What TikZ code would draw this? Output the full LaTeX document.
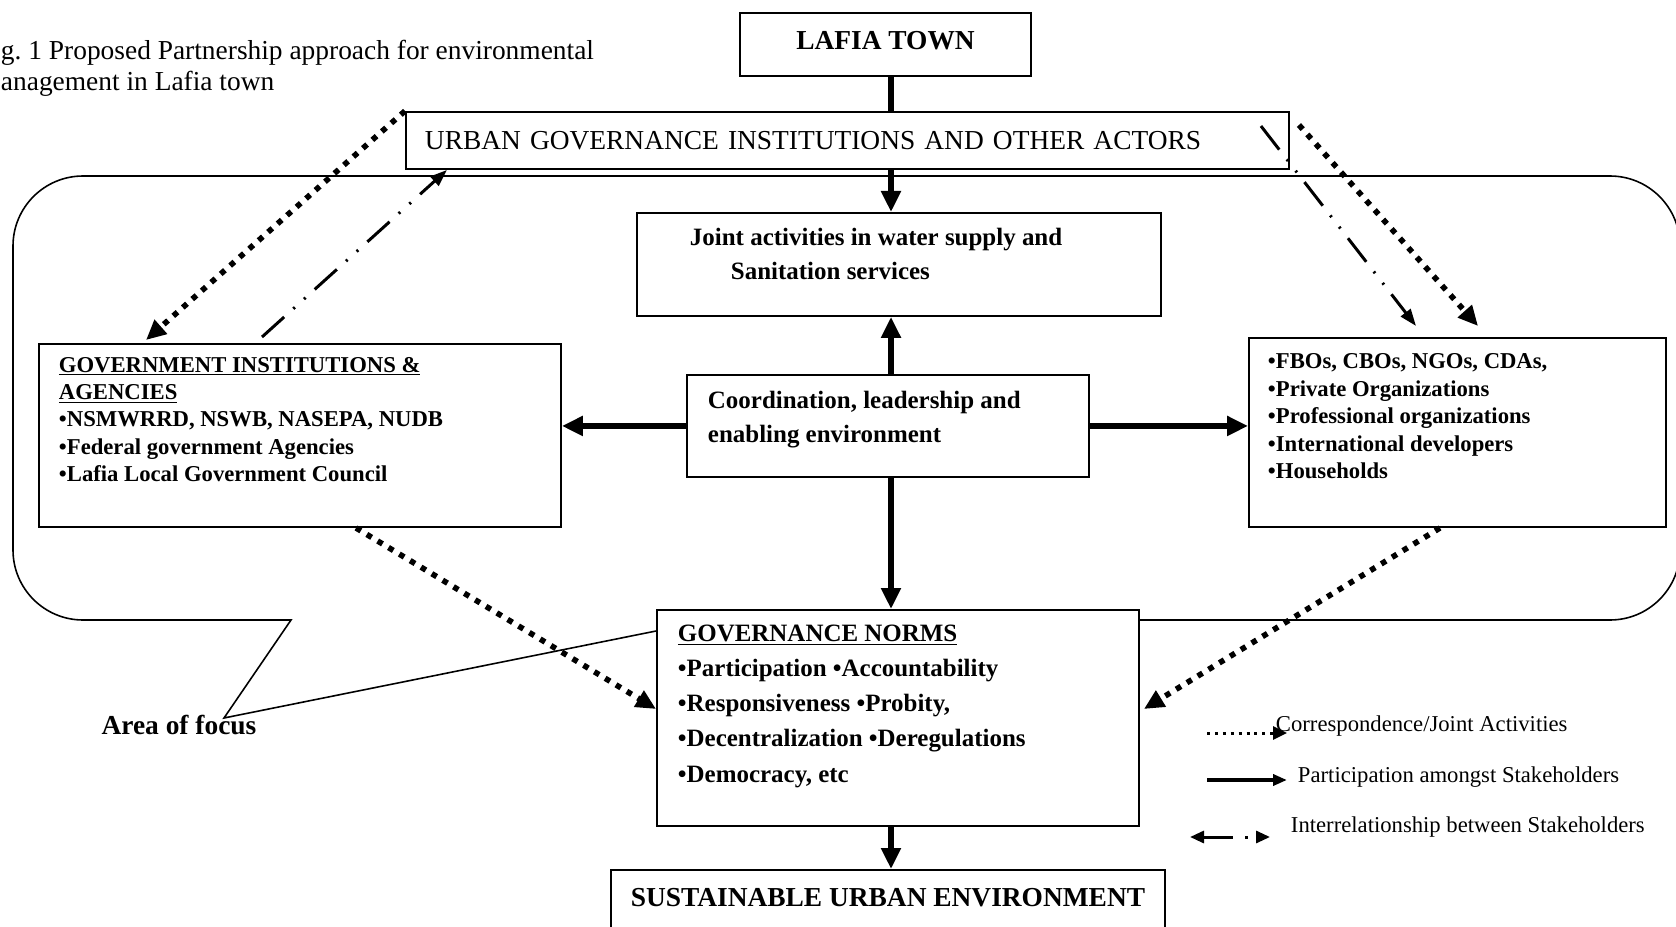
\documentclass[tikz,border=0pt]{standalone}
\usepackage{fontspec}
\setmainfont{Liberation Serif}
\frenchspacing
\usetikzlibrary{arrows.meta}

\tikzset{
  box/.style={draw, fill=white, line width=1.1pt, inner sep=0pt},
  bigtext/.style={font=\fontsize{15.6}{17.6}\selectfont},
  bigbold/.style={font=\fontsize{15.6}{17.6}\selectfont\bfseries},
  midbold/.style={font=\fontsize{14.2}{19.3}\selectfont\bfseries},
  normsbold/.style={font=\fontsize{14.2}{20}\selectfont\bfseries},
  sidebold/.style={font=\fontsize{12.9}{15.6}\selectfont\bfseries},
  legtext/.style={font=\fontsize{12.9}{15.6}\selectfont, anchor=west, inner sep=0pt},
  partline/.style={line width=3.1pt},
  corrline/.style={line width=3.2pt, dash pattern=on 3.2pt off 4pt,
    -{Triangle[length=4mm, width=3.6mm]}},
  interline/.style={line width=1.7pt,
    dash pattern=on 17pt off 7pt on 1.2pt off 7pt on 1.2pt off 7pt,
    -{Triangle[length=3.4mm, width=2.4mm]}},
}

\begin{document}
\begin{tikzpicture}[>={Triangle[length=4.2mm, width=3.8mm]}, line width=1.1pt]

% Page
\useasboundingbox (0,0) rectangle (33.52,18.52);
\clip (0,0) rectangle (33.52,18.52);
\fill[white] (0,0) rectangle (33.52,18.52);

% Caption
\node[bigtext, anchor=north west, align=left, inner sep=0pt] (caption) at (0,17.74)
  {g. 1 Proposed Partnership approach for environmental\\anagement in Lafia town};

% Area of focus callout
\coordinate (focus) at (4.48,4.16);
\draw[line width=0.9pt] (13.12,5.90) -- (focus) -- (5.82,6.12) -- (1.66,6.12)
  arc[start angle=270, end angle=180, radius=1.4] -- (0.26,13.6)
  arc[start angle=180, end angle=90, radius=1.4] -- (32.2,15.0)
  arc[start angle=90, end angle=0, radius=1.4] -- (33.6,7.52)
  arc[start angle=0, end angle=-90, radius=1.4] -- (13.6,6.12) -- cycle;
\node[bigbold, inner sep=0pt] (focuslabel) at (3.58,4.02) {Area of focus};

% Boxes
\node[box, bigbold, minimum width=5.82cm, minimum height=1.26cm, text depth=0.18cm]
  (lafia) at (17.71,17.63) {LAFIA TOWN};

\node[box, bigtext, anchor=north west, text width=16.9cm, inner xsep=0.38cm,
      minimum height=1.14cm, align=left]
  (urban) at (8.10,16.30) {URBAN GOVERNANCE INSTITUTIONS AND OTHER ACTORS};

\node[box, midbold, anchor=north west, inner xsep=1.06cm, inner ysep=0.30cm]
  (joint) at (12.72,14.28) {\begin{minipage}[c][1.46cm][t]{8.36cm}
    Joint activities in water supply and\\
    \hspace*{0.82cm}Sanitation services
  \end{minipage}};

\node[box, midbold, anchor=north west, inner xsep=0.42cm, inner ysep=0.32cm]
  (coord) at (13.72,11.04) {\begin{minipage}[c][1.40cm][t]{7.2cm}
    Coordination, leadership and\\
    enabling environment
  \end{minipage}};

\node[box, sidebold, anchor=north west, inner xsep=0.40cm, inner ysep=0.26cm]
  (gov) at (0.76,11.66) {\begin{minipage}[c][3.14cm][t]{9.64cm}
    \underline{GOVERNMENT INSTITUTIONS \&}\\
    \underline{AGENCIES}\\
    •NSMWRRD, NSWB, NASEPA, NUDB\\
    •Federal government Agencies\\
    •Lafia Local Government Council
  \end{minipage}};

\node[box, sidebold, anchor=north west, inner xsep=0.38cm, inner ysep=0.32cm]
  (others) at (24.96,11.78) {\begin{minipage}[c][3.14cm][t]{7.58cm}
    •FBOs, CBOs, NGOs, CDAs,\\
    •Private Organizations\\
    •Professional organizations\\
    •International developers\\
    •Households
  \end{minipage}};

\node[box, normsbold, anchor=north west, inner xsep=0.42cm, inner ysep=0.30cm]
  (norms) at (13.12,6.34) {\begin{minipage}[c][3.72cm][t]{8.8cm}
    \underline{GOVERNANCE NORMS}\\
    •Participation •Accountability\\
    •Responsiveness •Probity,\\
    •Decentralization •Deregulations\\
    •Democracy, etc
  \end{minipage}};

\node[box, bigbold, anchor=north, minimum width=11.08cm, minimum height=1.6cm,
      text depth=0.52cm]
  (sue) at (17.76,1.14) {SUSTAINABLE URBAN ENVIRONMENT};

% Participation (solid)
\coordinate (spine) at (17.82,0);
\draw[partline] (lafia.south -| spine) -- (urban.north -| spine);
\draw[partline, ->] (urban.south -| spine) -- (joint.north -| spine);
\draw[partline, ->] (coord.north -| spine) -- (joint.south -| spine);
\draw[partline, ->] (coord.south -| spine) -- (norms.north -| spine);
\draw[partline, ->] (norms.south -| spine) -- (sue.north -| spine);
\draw[partline, ->] (coord.west) -- (coord.west -| gov.east);
\draw[partline, ->] (coord.east) -- (coord.east -| others.west);

% Correspondence / joint activities (dotted)
\draw[corrline] (urban.north west) -- ([xshift=2.16cm, yshift=0.06cm]gov.north west);
\draw[corrline] ([xshift=0.18cm, yshift=-0.28cm]urban.north east)
  -- ([xshift=4.60cm, yshift=0.22cm]others.north west);
\draw[corrline] ([xshift=6.36cm]gov.south west) -- ([yshift=0.18cm]norms.west);
\draw[corrline] ([xshift=3.84cm]others.south west)
  -- ([xshift=0.08cm, yshift=0.18cm]norms.east);

% Interrelationship (dash-dot)
\draw[interline] ([xshift=4.48cm, yshift=0.12cm]gov.north west)
  -- ([xshift=0.84cm]urban.south west);
\draw[interline] ([xshift=-0.58cm, yshift=-0.30cm]urban.north east)
  -- ([xshift=3.36cm, yshift=0.22cm]others.north west);

% Legend
\coordinate (leg1) at (24.14,3.86);
\draw[corrline, line width=1.7pt, dash pattern=on 1.7pt off 2.8pt,
      -{Triangle[length=2.8mm, width=2.6mm]}] (leg1) -- ++(1.6,0);
\node[legtext] (legcorr) at (25.50,4.00) {Correspondence/Joint Activities};

\coordinate (leg2) at (24.14,2.92);
\draw[line width=2.2pt, -{Triangle[length=2.8mm, width=2.2mm]}] (leg2) -- ++(1.6,0);
\node[legtext] (legpart) at (25.94,2.98) {Participation amongst Stakeholders};

\coordinate (leg3) at (23.80,1.78);
\draw[interline, {Triangle[length=2.8mm, width=2.4mm]}-{Triangle[length=2.8mm, width=2.4mm]}]
  (leg3) -- ++(1.6,0);
\node[legtext] (leginter) at (25.80,1.98) {Interrelationship between Stakeholders};

\end{tikzpicture}
\end{document}
